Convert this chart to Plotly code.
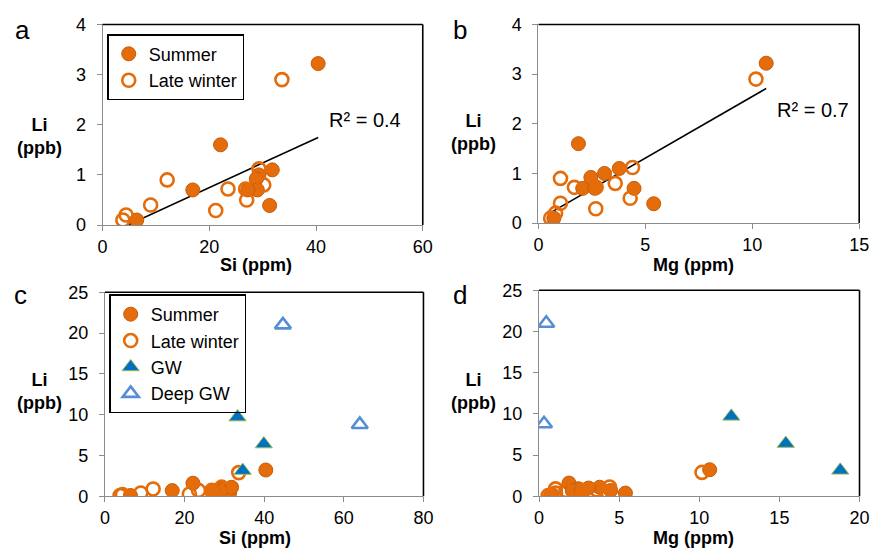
import plotly.graph_objects as go

# ---- data ----
summer_si = [40.4, 22.1, 31.3, 6.4, 31.8, 29.3, 28.8, 16.9, 29.0, 27.2]
summer_mg = [10.65, 1.87, 5.39, 0.72, 3.78, 3.09, 2.45, 2.07, 4.47, 2.64]
summer_li = [3.22, 1.60, 0.39, 0.10, 1.10, 1.00, 0.92, 0.70, 0.70, 0.70]

winter_si = [33.6, 12.1, 9.0, 4.4, 3.8, 21.2, 23.5, 26.8, 27.0, 30.2, 29.3]
winter_mg = [10.17, 1.03, 1.03, 0.80, 0.57, 2.68, 1.68, 2.70, 4.29, 3.59, 4.40]
winter_li = [2.90, 0.90, 0.40, 0.20, 0.10, 0.29, 0.72, 0.72, 0.50, 0.80, 1.12]

gw_si = [33.3, 39.9, 34.6]
gw_mg = [12.0, 15.4, 18.8]
gw_li = [9.7, 6.4, 3.15]

deep_si = [44.7, 64.0]
deep_mg = [0.45, 0.31]
deep_li = [21.0, 8.8]

# linear trendlines (slope, intercept) and R² as shown
trend_si = (0.049, -0.232)
trend_mg = (0.248, 0.07)
r2_si = 0.4
r2_mg = 0.7

W, H = 881, 560
FONT = "Arial, Liberation Sans, sans-serif"
ORANGE = "#E46C0A"
ORANGE_EDGE = "#C65C08"
BLUE = "#0070C0"
LBLUE = "#558ED5"

fig = go.Figure()

def px(x):
    return x / W

def py(y):
    return 1 - y / H

dom = {
    "a": ((99.3, 425.0), (15.0, 223.0)),
    "b": ((542.7, 869.0), (15.0, 221.0)),
    "c": ((101.7, 425.7), (292.7, 504.3)),
    "d": ((543.3, 869.3), (290.7, 504.3)),
}

def trend_line(xs, coef):
    lo, hi = min(xs), max(xs)
    return [lo, hi], [coef[0] * lo + coef[1], coef[0] * hi + coef[1]]

all_si = summer_si + winter_si
all_mg = summer_mg + winter_mg

panels = [
    ("a", "x", "y", summer_si, winter_si, None, None, "legend"),
    ("b", "x2", "y2", summer_mg, winter_mg, None, None, None),
    ("c", "x3", "y3", summer_si, winter_si, gw_si, deep_si, "legend2"),
    ("d", "x4", "y4", summer_mg, winter_mg, gw_mg, deep_mg, None),
]

for name, xa, ya, sx, wx, gx, dx, leg in panels:
    if name in ("a", "b"):
        tx, ty = trend_line(all_si if name == "a" else all_mg,
                            trend_si if name == "a" else trend_mg)
        fig.add_trace(go.Scatter(x=tx, y=ty, mode="lines", xaxis=xa, yaxis=ya,
                                 line=dict(color="black", width=1.6),
                                 showlegend=False, hoverinfo="skip"))
    showleg = leg is not None
    lg = leg if leg else "legend"
    fig.add_trace(go.Scatter(x=sx, y=summer_li, mode="markers", name="Summer",
                             xaxis=xa, yaxis=ya, legend=lg, showlegend=showleg,
                             marker=dict(symbol="circle", size=14, color=ORANGE,
                                         line=dict(color=ORANGE_EDGE, width=1))))
    fig.add_trace(go.Scatter(x=wx, y=winter_li, mode="markers", name="Late winter",
                             xaxis=xa, yaxis=ya, legend=lg, showlegend=showleg,
                             marker=dict(symbol="circle-open", size=13, color=ORANGE,
                                         line=dict(color=ORANGE, width=2.6))))
    if gx is not None:
        fig.add_trace(go.Scatter(x=gx, y=gw_li, mode="markers", name="GW",
                                 xaxis=xa, yaxis=ya, legend=lg, showlegend=showleg,
                                 marker=dict(symbol="triangle-up", size=15, color=BLUE,
                                             line=dict(color="#9BBB59", width=1))))
        fig.add_trace(go.Scatter(x=dx, y=deep_li, mode="markers", name="Deep GW",
                                 xaxis=xa, yaxis=ya, legend=lg, showlegend=showleg,
                                 marker=dict(symbol="triangle-up-open", size=14, color=LBLUE,
                                             line=dict(color=LBLUE, width=2.6))))

axis_common = dict(showgrid=False, zeroline=False, showline=True, linecolor="#8c8c8c",
                   linewidth=1.2, ticks="outside", ticklen=5, tickcolor="#8c8c8c",
                   tickfont=dict(family=FONT, size=18, color="black"), fixedrange=True)

ranges = {
    "a": ([0, 60], 20, [0, 4], 1),
    "b": ([0, 15], 5, [0, 4], 1),
    "c": ([0, 80], 20, [0, 25], 5),
    "d": ([0, 20], 5, [0, 25], 5),
}

layout = dict(width=W, height=H, margin=dict(l=0, r=0, t=0, b=0, pad=0), autosize=False,
              paper_bgcolor="white", plot_bgcolor="white",
              font=dict(family=FONT, size=18, color="black"))
for i, name in enumerate(["a", "b", "c", "d"]):
    (x0, x1), (y0, y1) = dom[name]
    xr, xd, yr, yd = ranges[name]
    sfx = "" if i == 0 else str(i + 1)
    layout["xaxis" + sfx] = dict(axis_common, domain=[px(x0), px(x1)], range=xr, dtick=xd,
                                 anchor="y" + sfx, ticklabelstandoff=0)
    layout["yaxis" + sfx] = dict(axis_common, domain=[py(y1), py(y0)], range=yr, dtick=yd,
                                 anchor="x" + sfx, ticklabelstandoff=7)
fig.update_layout(**layout)

# black top/right frame edges
for i in range(4):
    sfx = "" if i == 0 else str(i + 1)
    xr_, yr_ = "x" + sfx + " domain", "y" + sfx + " domain"
    fig.add_shape(type="line", xref=xr_, yref=yr_, x0=0, x1=1, y0=1, y1=1,
                  line=dict(color="black", width=1.6))
    fig.add_shape(type="line", xref=xr_, yref=yr_, x0=1, x1=1, y0=0, y1=1,
                  line=dict(color="black", width=1.6))

fig.update_layout(
    legend=dict(x=px(104), y=py(25), xanchor="left", yanchor="top",
                bordercolor="black", borderwidth=1.5, bgcolor="white",
                font=dict(family=FONT, size=18), itemwidth=30,
                tracegroupgap=0),
    legend2=dict(x=px(106), y=py(295), xanchor="left", yanchor="top",
                 bordercolor="black", borderwidth=1.5, bgcolor="rgba(255,255,255,0)",
                 font=dict(family=FONT, size=18), itemwidth=30,
                 tracegroupgap=0),
)

ann = []
for lab, x, y in [("a", 18, 21), ("b", 463, 21), ("c", 16, 296), ("d", 463, 296)]:
    ann.append(dict(text=lab, x=px(x), y=py(y), xref="paper", yref="paper",
                    showarrow=False, font=dict(size=26), xanchor="center", yanchor="middle"))
for x, y in [(35, 131), (477, 127), (35, 396), (477, 396)]:
    ann.append(dict(text="<b>Li</b><br><b>(ppb)</b>", x=px(x), y=py(y), xref="paper", yref="paper",
                    showarrow=False, font=dict(size=18), xanchor="center", yanchor="middle"))
for t, x, y in [("Si (ppm)", 255, 264), ("Mg (ppm)", 700, 264),
                ("Si (ppm)", 254, 548), ("Mg (ppm)", 700, 548)]:
    ann.append(dict(text="<b>" + t + "</b>", x=px(x), y=py(y), xref="paper", yref="paper",
                    showarrow=False, font=dict(size=18), xanchor="center", yanchor="middle"))
ann.append(dict(text="R² = %.1f" % r2_si, x=px(366), y=py(114), xref="paper", yref="paper",
                showarrow=False, font=dict(size=20), xanchor="center", yanchor="middle"))
ann.append(dict(text="R² = %.1f" % r2_mg, x=px(822), y=py(104), xref="paper", yref="paper",
                showarrow=False, font=dict(size=20), xanchor="center", yanchor="middle"))
fig.update_layout(annotations=ann)

fig.write_html(
    "out.html",
    post_script=("document.documentElement.style.margin='0';"
                 "document.body.style.margin='0';document.body.style.padding='0';"),
)
